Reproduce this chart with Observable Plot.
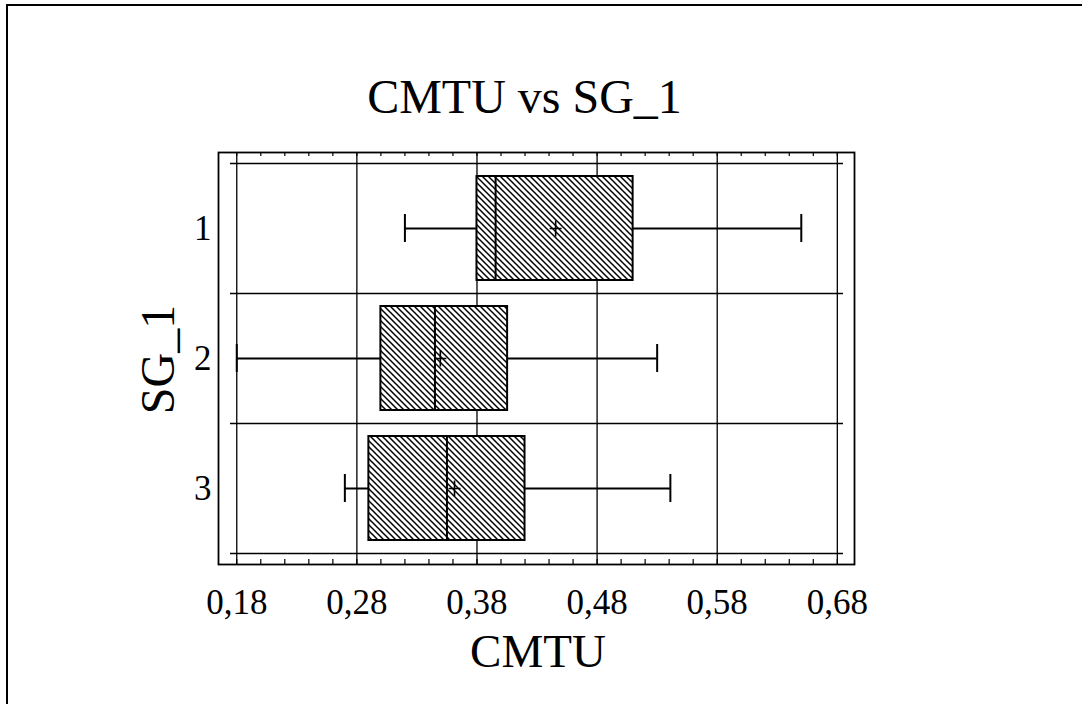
<!DOCTYPE html>
<html>
<head>
<meta charset="utf-8">
<script src="https://cdn.jsdelivr.net/npm/d3@7"></script>
<script src="https://cdn.jsdelivr.net/npm/@observablehq/plot@0.6"></script>
<style>
  html, body { margin: 0; padding: 0; background: white; overflow: hidden; }
  #wrap { position: relative; width: 1082px; height: 704px; }
  .bt { position: absolute; left: 6px; top: 4px; width: 1076px; height: 2px; background: #000; }
  .bl { position: absolute; left: 6px; top: 4px; width: 2px; height: 700px; background: #000; }
  #chart { position: absolute; left: 0; top: 0; }
</style>
</head>
<body>
<div id="wrap">
  <div id="chart"></div>
  <div class="bt"></div>
  <div class="bl"></div>
</div>
<script>
// ---- data ----
const categories  = ["1", "2", "3"];
const boxLow      = [0.380, 0.300, 0.290];   // Q1
const boxHigh     = [0.510, 0.4055, 0.420];  // Q3
const medians     = [0.3955, 0.345, 0.355];
const means       = [0.4455, 0.3495, 0.3613];
const whiskerLow  = [0.320, 0.180, 0.270];
const whiskerHigh = [0.650, 0.530, 0.541];

const xTicks      = [0.18, 0.28, 0.38, 0.48, 0.58, 0.68];
const xTickLabels = ["0,18", "0,28", "0,38", "0,48", "0,58", "0,68"];
const minorTicks  = [0.18, 0.20, 0.22, 0.24, 0.26, 0.28, 0.30, 0.32, 0.34, 0.36, 0.38,
                     0.40, 0.42, 0.44, 0.46, 0.48, 0.50, 0.52, 0.54, 0.56, 0.58, 0.60,
                     0.62, 0.64, 0.66, 0.68];
const titleText = "CMTU vs SG_1";
const xLabel = "CMTU";
const yLabel = "SG_1";

const table = categories.map((c, i) => ({
  cat: c, q1: boxLow[i], q3: boxHigh[i], med: medians[i], mean: means[i],
  lo: whiskerLow[i], hi: whiskerHigh[i]
}));

const plusSymbol = {
  draw(ctx) { ctx.moveTo(-6, 0); ctx.lineTo(6, 0); ctx.moveTo(0, -8); ctx.lineTo(0, 8); }
};

const band = 130;
const chart = Plot.plot({
  width: 1082,
  height: 704,
  marginLeft: 218,
  marginRight: 228,
  marginTop: 152,
  marginBottom: 140,
  style: { fontFamily: "'Liberation Serif', 'Times New Roman', serif", background: "white", color: "black" },
  x: { domain: [0.1648, 0.6943] },
  y: { type: "band", domain: categories, padding: 0, inset: 11 },
  marks: [
    Plot.ruleX(xTicks, { x: d => d, stroke: "black", strokeWidth: 1.3 }),
    Plot.ruleX(minorTicks, { x: d => d, stroke: "black", strokeWidth: 1.2, insetBottom: 408 }),
    Plot.ruleX(minorTicks, { x: d => d, stroke: "black", strokeWidth: 1.2, insetTop: 407 }),
    Plot.ruleY(categories, { y: d => d, dy: -band / 2, insetLeft: 12, insetRight: 11, stroke: "black", strokeWidth: 1.5 }),
    Plot.ruleY([categories[categories.length - 1]], { y: d => d, dy: band / 2, insetLeft: 12, insetRight: 11, stroke: "black", strokeWidth: 1.5 }),
    Plot.frame({ stroke: "black", strokeWidth: 1.8 }),
    Plot.ruleY(table, { y: "cat", x1: "lo", x2: "q1", stroke: "black", strokeWidth: 2 }),
    Plot.ruleY(table, { y: "cat", x1: "q3", x2: "hi", stroke: "black", strokeWidth: 2 }),
    Plot.tickX(table, { x: "lo", y: "cat", insetTop: 51, insetBottom: 51, stroke: "black", strokeWidth: 2 }),
    Plot.tickX(table, { x: "hi", y: "cat", insetTop: 51, insetBottom: 51, stroke: "black", strokeWidth: 2 }),
    Plot.barX(table, { y: "cat", x1: "q1", x2: "q3", fill: "url(#hatch)", stroke: "black", strokeWidth: 2, insetTop: 13, insetBottom: 13 }),
    Plot.tickX(table, { x: "med", y: "cat", insetTop: 13, insetBottom: 13, stroke: "black", strokeWidth: 2 }),
    Plot.dot(table, { x: "mean", y: "cat", symbol: plusSymbol, stroke: "black", strokeWidth: 1.6, fill: "none" }),
    Plot.axisX(xTicks, { tickFormat: d => xTickLabels[xTicks.indexOf(d)], tickSize: 0, tickPadding: 25, fontSize: 35, label: null }),
    Plot.axisY({ tickSize: 0, tickPadding: 7, fontSize: 35, label: null }),
    Plot.text([titleText], { text: d => d, frameAnchor: "top", lineAnchor: "middle", textAnchor: "middle", dx: -12, dy: -55, fontSize: 48, fill: "black" }),
    Plot.text([xLabel], { text: d => d, frameAnchor: "bottom", lineAnchor: "middle", textAnchor: "middle", dx: 1.5, dy: 87, fontSize: 47, fill: "black" }),
    Plot.text([yLabel], { text: d => d, frameAnchor: "left", lineAnchor: "middle", textAnchor: "middle", rotate: -90, dx: -60, dy: 1, fontSize: 48, fill: "black" })
  ]
});

// hatch pattern definition for the boxes
const defs = d3.select(chart).insert("defs", ":first-child");
const pat = defs.append("pattern")
  .attr("id", "hatch")
  .attr("patternUnits", "userSpaceOnUse")
  .attr("width", 6)
  .attr("height", 6);
pat.append("rect").attr("width", 6).attr("height", 6).attr("fill", "white");
pat.append("path")
  .attr("d", "M0,0L6,6M5,-1L7,1M-1,5L1,7")
  .attr("stroke", "black")
  .attr("stroke-width", 1.5)
  .attr("fill", "none");

document.getElementById("chart").appendChild(chart);
</script>
</body>
</html>
